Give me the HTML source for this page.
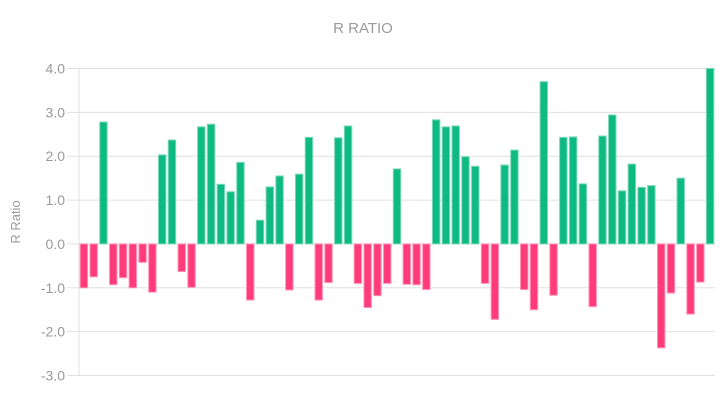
<!DOCTYPE html>
<html><head><meta charset="utf-8"><style>
html,body{margin:0;padding:0;background:#fff;}
svg{display:block;font-family:"Liberation Sans",sans-serif;}
</style></head><body>
<svg id="chart" width="727" height="403">
<text x="363" y="33" text-anchor="middle" font-size="15" fill="#9a9a9a">R RATIO</text>
<text transform="translate(20,222) rotate(-90)" text-anchor="middle" font-size="13" fill="#9a9a9a">R Ratio</text>
<g id="grid"></g><g id="bars"></g>
</svg>
<script>
const values=[-1.0,-0.75,2.78,-0.93,-0.77,-1.0,-0.42,-1.1,2.03,2.37,-0.63,-0.99,2.67,2.73,1.36,1.19,1.86,-1.28,0.54,1.3,1.55,-1.05,1.59,2.43,-1.28,-0.88,2.42,2.69,-0.9,-1.45,-1.18,-0.9,1.71,-0.92,-0.93,-1.04,2.83,2.67,2.69,1.99,1.77,-0.9,-1.72,1.8,2.14,-1.04,-1.5,3.7,-1.17,2.43,2.44,1.37,-1.43,2.46,2.94,1.21,1.82,1.29,1.33,-2.37,-1.12,1.5,-1.6,-0.87,4.0];
const ticks=[4,3,2,1,0,-1,-2,-3];
const tickLabels=["4.0","3.0","2.0","1.0","0.0","-1.0","-2.0","-3.0"];
const NS="http://www.w3.org/2000/svg";
const x0=79,x1=715,yTop=68.5,yBot=375.5,vMax=4,vMin=-3;
const y=v=>yTop+(vMax-v)/(vMax-vMin)*(yBot-yTop);
const band=(x1-x0)/values.length;
const grid=document.getElementById('grid'),bars=document.getElementById('bars');
function mk(t,a){const e=document.createElementNS(NS,t);for(const k in a)e.setAttribute(k,a[k]);return e;}
ticks.forEach((t,i)=>{
 const l=mk('line',{x1:67,x2:x1,y1:y(t),y2:y(t),stroke:'#e0e0e0','stroke-width':1});
 
 
 grid.appendChild(l);
 const tx=mk('text',{x:65,y:y(t)+5,'text-anchor':'end','font-size':14,fill:'#9a9a9a'});
 tx.textContent=tickLabels[i];
 
 
 grid.appendChild(tx);
});
const ax=mk('line',{x1:x0,x2:x0,y1:yTop,y2:yBot,stroke:'#e0e0e0','stroke-width':1});


grid.appendChild(ax);
values.forEach((v,i)=>{
 const w=band*0.76,cx=x0+band*(i+0.5);
 const top=Math.min(y(v),y(0)),h=Math.abs(y(v)-y(0));
 const pos=v>=0;
 const r=mk('rect',{x:cx-w/2,y:top,width:w,height:h,fill:pos?'#0dbb82':'#ff3b7b',stroke:pos?'#7dd8b8':'#ff95b6','stroke-width':1});
 
 
 bars.appendChild(r);
});
</script>
</body></html>
